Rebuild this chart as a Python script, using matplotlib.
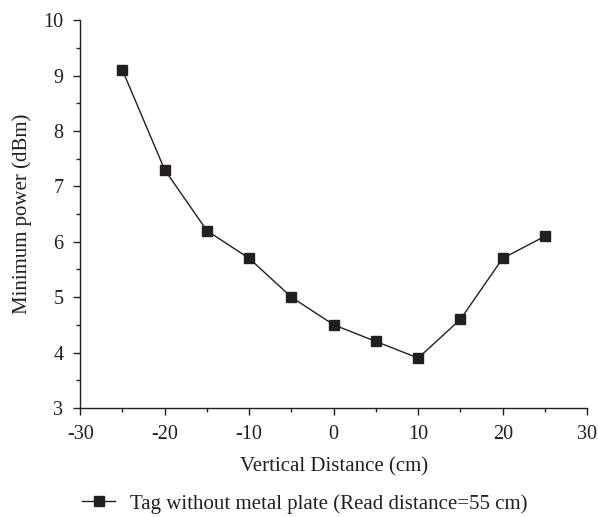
#!/usr/bin/env python3
"""Minimum power vs vertical distance for tag without metal plate."""

import matplotlib
matplotlib.use('Agg')
import matplotlib.pyplot as plt
from matplotlib.ticker import MultipleLocator

# Data
distance_cm = [-25, -20, -15, -10, -5, 0, 5, 10, 15, 20, 25]
min_power_dbm = [9.1, 7.3, 6.2, 5.7, 5.0, 4.5, 4.2, 3.9, 4.6, 5.7, 6.1]
series_label = 'Tag without metal plate (Read distance=55 cm)'

plt.rcParams['font.family'] = ['Liberation Serif', 'DejaVu Serif']
plt.rcParams['font.size'] = 15
plt.rcParams['axes.unicode_minus'] = False

ink = '#231f20'

fig = plt.figure(figsize=(5.98, 5.17), dpi=100)
ax = fig.add_axes([0.134, 0.211, 0.848, 0.750])

ax.plot(distance_cm, min_power_dbm, color=ink, linewidth=1.0,
        marker='s', markersize=7.0, markerfacecolor=ink,
        markeredgecolor=ink, label=series_label)

ax.set_xlim(-30, 30)
ax.set_ylim(3, 10)
ax.xaxis.set_major_locator(MultipleLocator(10))
ax.xaxis.set_minor_locator(MultipleLocator(5))
ax.yaxis.set_major_locator(MultipleLocator(1))
ax.yaxis.set_minor_locator(MultipleLocator(0.5))

for side in ('top', 'right'):
    ax.spines[side].set_visible(False)
for side in ('left', 'bottom'):
    ax.spines[side].set_color(ink)
    ax.spines[side].set_linewidth(1.0)

ax.tick_params(which='major', direction='out', length=5, width=1.0,
               color=ink, labelcolor=ink, labelsize=14.5)
ax.tick_params(axis='x', which='major', pad=7)
ax.tick_params(axis='y', which='major', pad=7)
ax.tick_params(which='minor', direction='out', length=3, width=1.0,
               color=ink)

ax.set_xlabel('Vertical Distance (cm)', color=ink, labelpad=10)
ax.set_ylabel('Minimum power (dBm)', color=ink, labelpad=8)

ax.legend(loc='center', bbox_to_anchor=(0.443, -0.247), frameon=False,
          handlelength=1.6, handletextpad=0.7, labelcolor=ink)

fig.savefig('out.png', dpi=100)
